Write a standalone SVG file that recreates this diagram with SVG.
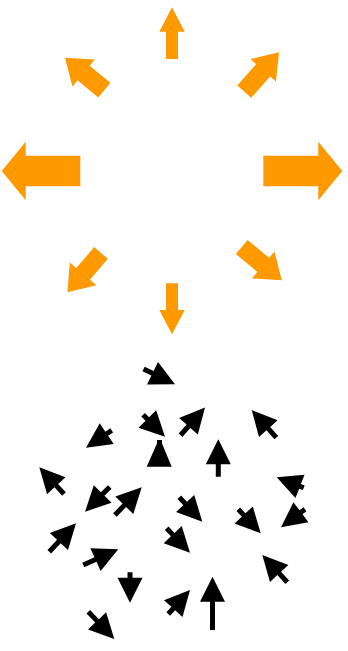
<svg xmlns="http://www.w3.org/2000/svg" width="348" height="651" viewBox="0 0 348 651">
<style>
.o{fill:#FF9900;stroke:none}
.k{fill:#000000;stroke:none}
</style>
<rect width="348" height="651" fill="#FFFFFF"/>
<g id="outflow">
<g id="o-up"><path class="o" transform="translate(172,7.3) rotate(-90)" d="M0,0 L-24.4,-12.7 L-24.4,-6 L-51.7,-6 L-51.7,6 L-24.4,6 L-24.4,12.7 Z"/></g>
<g id="o-down"><path class="o" transform="translate(172,334.3) rotate(90)" d="M0,0 L-24.4,-12.7 L-24.4,-6 L-51,-6 L-51,6 L-24.4,6 L-24.4,12.7 Z"/></g>
<g id="o-left"><path class="o" transform="translate(1.7,171) rotate(180)" d="M0,0 L-24,-29.3 L-24,-15.2 L-78.6,-15.2 L-78.6,15.2 L-24,15.2 L-24,29.3 Z"/></g>
<g id="o-right"><path class="o" transform="translate(342.3,171) rotate(0)" d="M0,0 L-24,-29.3 L-24,-15.2 L-79,-15.2 L-79,15.2 L-24,15.2 L-24,29.3 Z"/></g>
<g id="o-ul"><path class="o" transform="translate(65,57.7) rotate(219.5)" d="M0,0 L-24,-17.5 L-24,-9.5 L-51,-9.5 L-51,9.5 L-24,9.5 L-24,17.5 Z"/></g>
<g id="o-ur"><path class="o" transform="translate(279,52.3) rotate(-48.6)" d="M0,0 L-24,-17 L-24,-9.3 L-52.5,-9.3 L-52.5,9.3 L-24,9.3 L-24,17 Z"/></g>
<g id="o-ll"><path class="o" transform="translate(67.5,292.2) rotate(130.5)" d="M0,0 L-24,-17.5 L-24,-9 L-51.6,-9 L-51.6,9 L-24,9 L-24,17.5 Z"/></g>
<g id="o-lr"><path class="o" transform="translate(281.7,280.3) rotate(39.8)" d="M0,0 L-24,-17.5 L-24,-9.2 L-52,-9.2 L-52,9.2 L-24,9.2 L-24,17.5 Z"/></g>
</g>
<g id="inflow">
<g id="k1"><path class="k" transform="translate(175,384.3) rotate(26)" d="M0,0 L-25,-12.5 L-25,-2.5 L-35,-2.5 L-35,2.5 L-25,2.5 L-25,12.5 Z"/></g>
<g id="k2"><path class="k" transform="translate(165,436.7) rotate(45)" d="M0,0 L-25,-12.5 L-25,-2.5 L-31,-2.5 L-31,2.5 L-25,2.5 L-25,12.5 Z"/></g>
<g id="k3"><path class="k" transform="translate(205,407.5) rotate(-48.6)" d="M0,0 L-25,-12.5 L-25,-2.5 L-37,-2.5 L-37,2.5 L-25,2.5 L-25,12.5 Z"/></g>
<g id="k4"><path class="k" transform="translate(251.7,410) rotate(-131.7)" d="M0,0 L-25,-12.5 L-25,-2.5 L-37,-2.5 L-37,2.5 L-25,2.5 L-25,12.5 Z"/></g>
<g id="k5"><path class="k" transform="translate(86,447.7) rotate(146)" d="M0,0 L-25,-12.5 L-25,-2.5 L-31,-2.5 L-31,2.5 L-25,2.5 L-25,12.5 Z"/></g>
<g id="k6"><path class="k" d="M157,440 L162,440 L162,443.5 L171.7,466.7 L146.7,466.7 L157,443.5 Z"/></g>
<g id="k7"><path class="k" transform="translate(218.3,439.3) rotate(-90)" d="M0,0 L-25,-12.5 L-25,-2.5 L-37.4,-2.5 L-37.4,2.5 L-25,2.5 L-25,12.5 Z"/></g>
<g id="k8"><path class="k" transform="translate(39.3,467.3) rotate(-132.8)" d="M0,0 L-25,-12.5 L-25,-2.5 L-36.4,-2.5 L-36.4,2.5 L-25,2.5 L-25,12.5 Z"/></g>
<g id="k9"><path class="k" transform="translate(276.7,477.3) rotate(-158.8)" d="M0,0 L-25,-12.5 L-25,-2.5 L-29,-2.5 L-29,2.5 L-25,2.5 L-25,12.5 Z"/></g>
<g id="k10"><path class="k" transform="translate(85,511.7) rotate(135)" d="M0,0 L-25,-12.5 L-25,-2.5 L-35,-2.5 L-35,2.5 L-25,2.5 L-25,12.5 Z"/></g>
<g id="k11"><path class="k" transform="translate(141.7,487.3) rotate(-46)" d="M0,0 L-25,-12.5 L-25,-2.5 L-38.5,-2.5 L-38.5,2.5 L-25,2.5 L-25,12.5 Z"/></g>
<g id="k12"><path class="k" transform="translate(202.3,521.7) rotate(46.7)" d="M0,0 L-25,-12.5 L-25,-2.5 L-33.5,-2.5 L-33.5,2.5 L-25,2.5 L-25,12.5 Z"/></g>
<g id="k13"><path class="k" transform="translate(260.7,533.3) rotate(47)" d="M0,0 L-25,-12.5 L-25,-2.5 L-32.8,-2.5 L-32.8,2.5 L-25,2.5 L-25,12.5 Z"/></g>
<g id="k14"><path class="k" transform="translate(281,527.3) rotate(143)" d="M0,0 L-25,-12.5 L-25,-2.5 L-30,-2.5 L-30,2.5 L-25,2.5 L-25,12.5 Z"/></g>
<g id="k15"><path class="k" transform="translate(76,523.3) rotate(-46.8)" d="M0,0 L-25,-12.5 L-25,-2.5 L-39,-2.5 L-39,2.5 L-25,2.5 L-25,12.5 Z"/></g>
<g id="k16"><path class="k" transform="translate(190,552.7) rotate(46.3)" d="M0,0 L-25,-12.5 L-25,-2.5 L-33.7,-2.5 L-33.7,2.5 L-25,2.5 L-25,12.5 Z"/></g>
<g id="k17"><path class="k" transform="translate(118.3,549.3) rotate(-24.2)" d="M0,0 L-25,-12.5 L-25,-2.5 L-38.4,-2.5 L-38.4,2.5 L-25,2.5 L-25,12.5 Z"/></g>
<g id="k18"><path class="k" transform="translate(130,602.7) rotate(90)" d="M0,0 L-25,-12.5 L-25,-2.5 L-30.4,-2.5 L-30.4,2.5 L-25,2.5 L-25,12.5 Z"/></g>
<g id="k19"><path class="k" transform="translate(262.3,555) rotate(-132.5)" d="M0,0 L-25,-12.5 L-25,-2.5 L-37,-2.5 L-37,2.5 L-25,2.5 L-25,12.5 Z"/></g>
<g id="k20"><path class="k" transform="translate(190,590) rotate(-47.9)" d="M0,0 L-25,-12.5 L-25,-2.5 L-32.4,-2.5 L-32.4,2.5 L-25,2.5 L-25,12.5 Z"/></g>
<g id="k21"><path class="k" transform="translate(212.5,576.7) rotate(-90)" d="M0,0 L-25,-12.5 L-25,-2.5 L-53.3,-2.5 L-53.3,2.5 L-25,2.5 L-25,12.5 Z"/></g>
<g id="k22"><path class="k" transform="translate(114.3,639) rotate(46.4)" d="M0,0 L-25,-12.5 L-25,-2.5 L-37.7,-2.5 L-37.7,2.5 L-25,2.5 L-25,12.5 Z"/></g>
</g>
</svg>
